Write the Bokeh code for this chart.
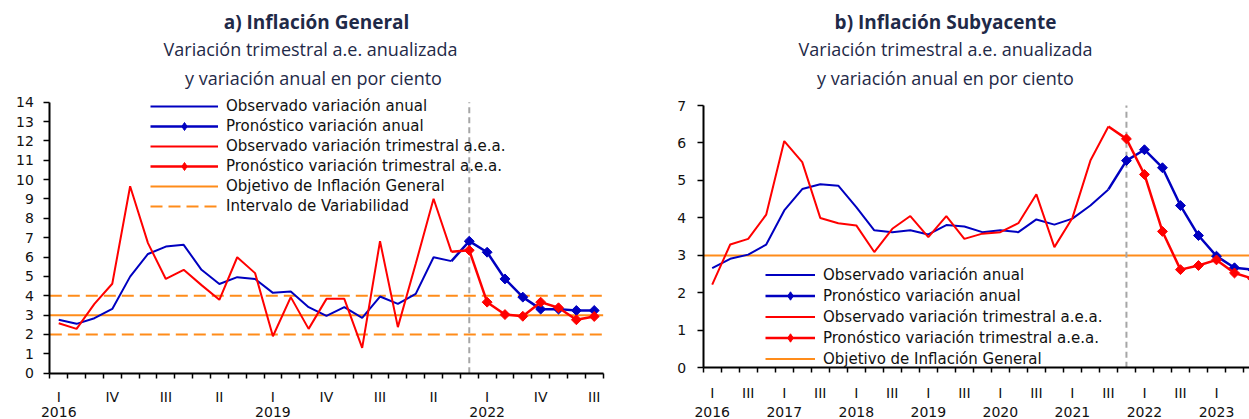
import numpy as np
from bokeh.plotting import figure
from bokeh.models import FixedTicker, Label, Legend, LegendItem, Range1d
from bokeh.layouts import row
from bokeh.embed import file_html
from bokeh.resources import INLINE

# ---------------- data ----------------
quarters = ["I", "II", "III", "IV"] * 7 + ["I", "II", "III"]   # 2016-I ... 2023-III
years = ["2016", "2017", "2018", "2019", "2020", "2021", "2022", "2023"]

# a) Inflación General
general_anual_obs = [2.76, 2.55, 2.84, 3.32, 4.99, 6.16, 6.54, 6.63, 5.34, 4.61, 4.96, 4.87,
                     4.15, 4.22, 3.41, 2.96, 3.41, 2.86, 3.96, 3.58, 4.10, 5.99, 5.79]
general_anual_pron = [6.82, 6.25, 4.87, 3.93, 3.31, 3.31, 3.24, 3.24]
general_trim_obs = [2.58, 2.29, 3.58, 4.62, 9.66, 6.72, 4.87, 5.34, 4.55, 3.79, 5.99, 5.17,
                    1.91, 3.93, 2.29, 3.84, 3.84, 1.31, 6.82, 2.38, 5.65, 9.01, 6.27]
general_trim_pron = [6.35, 3.67, 3.03, 2.94, 3.67, 3.38, 2.76, 2.93]

# b) Inflación Subyacente
sub_anual_obs = [2.66, 2.91, 3.02, 3.29, 4.20, 4.77, 4.90, 4.86, 4.29, 3.67, 3.62, 3.67,
                 3.56, 3.81, 3.77, 3.62, 3.67, 3.62, 3.96, 3.82, 3.98, 4.33, 4.76]
sub_anual_pron = [5.53, 5.82, 5.34, 4.33, 3.53, 2.98, 2.67, 2.62]
sub_trim_obs = [2.22, 3.29, 3.44, 4.09, 6.05, 5.49, 4.00, 3.86, 3.80, 3.09, 3.71, 4.05,
                3.49, 4.05, 3.44, 3.58, 3.62, 3.86, 4.63, 3.22, 4.00, 5.53, 6.44]
sub_trim_pron = [6.11, 5.16, 3.64, 2.62, 2.73, 2.88, 2.53, 2.38]

objetivo = 3.0
intervalo = [2.0, 4.0]

labels_legend = ["Observado variación anual", "Pronóstico variación anual",
                 "Observado variación trimestral a.e.a.", "Pronóstico variación trimestral a.e.a.",
                 "Objetivo de Inflación General", "Intervalo de Variabilidad"]

# ---------------- style ----------------
BLUE = "#0000C0"
RED = "#FF0000"
ORANGE = "#FF8C1A"
GRAY = "#A6A6A6"
NAVY = "#1F2A48"
TXT = "#111111"
FONT = "DejaVu Sans"
TFONT = "Open Sans"
H = 419


def panel(x0, width, ax_left, cat_px, ax_bottom, unit_px, y_max,
          a_obs, a_pron, t_obs, t_pron, with_interval, q_step, year_step,
          titles, title_pos, leg_xy, glyph_w, row_h, q_standoff, y_standoff, year_py):
    """x0: page x of the figure; ax_left / ax_bottom: page px of the axes; the
    plotting frame covers the whole figure so that every text stays visible."""
    n = len(quarters)
    x_start = -0.5 - (ax_left - x0) / cat_px
    x_end = -0.5 + (x0 + width - ax_left) / cat_px
    y_start = -(H - ax_bottom) / unit_px
    y_end = ax_bottom / unit_px

    p = figure(width=width, height=H, output_backend="svg", toolbar_location=None,
               x_range=Range1d(x_start, x_end), y_range=Range1d(y_start, y_end),
               min_border=0, min_border_left=0, min_border_right=0,
               min_border_top=0, min_border_bottom=0)
    p.title.visible = False
    p.outline_line_color = None
    p.grid.visible = False
    p.background_fill_color = "white"
    p.border_fill_color = "white"

    # ---- x axis (category style: tick marks at boundaries, labels at centres)
    xa = p.xaxis[0]
    xa.fixed_location = 0
    xa.bounds = (-0.5, n - 0.5)
    q_idx = list(range(0, n, q_step))
    xa.ticker = FixedTicker(ticks=q_idx, minor_ticks=[i - 0.5 for i in range(n + 1)])
    xa.major_label_overrides = {i: quarters[i] for i in q_idx}
    xa.major_tick_out = 0
    xa.major_tick_in = 0
    xa.minor_tick_out = 5
    xa.minor_tick_in = 0
    xa.axis_line_width = 2
    xa.minor_tick_line_width = 1.5
    xa.axis_line_color = "black"
    xa.minor_tick_line_color = "black"
    xa.major_label_text_font = FONT
    xa.major_label_text_font_size = "14px"
    xa.major_label_text_color = TXT
    xa.major_label_standoff = q_standoff

    # ---- y axis
    ya = p.yaxis[0]
    ya.fixed_location = -0.5
    ya.bounds = (0, y_max)
    ya.ticker = FixedTicker(ticks=list(range(0, y_max + 1)))
    ya.major_tick_out = 6
    ya.major_tick_in = 0
    ya.minor_tick_out = 0
    ya.minor_tick_in = 0
    ya.axis_line_width = 2
    ya.major_tick_line_width = 1.5
    ya.axis_line_color = "black"
    ya.major_tick_line_color = "black"
    ya.major_label_text_font = FONT
    ya.major_label_text_font_size = "14px"
    ya.major_label_text_color = TXT
    ya.major_label_standoff = y_standoff

    # ---- year labels under the first quarter of selected years
    for i in range(0, n, year_step):
        if i <= x_end:
            p.add_layout(Label(x=i, y=H - year_py, x_units="data", y_units="screen",
                               text=years[i // 4], text_align="center", text_baseline="middle",
                               text_font=FONT, text_font_size="14px", text_color=TXT))

    # ---- titles
    for k, (txt, (px, py)) in enumerate(zip(titles, title_pos)):
        p.add_layout(Label(x=px - x0, y=H - py, x_units="screen", y_units="screen", text=txt,
                           text_align="center", text_baseline="middle", text_font=TFONT,
                           text_font_size="19px" if k == 0 else "18px",
                           text_font_style="bold" if k == 0 else "normal",
                           text_color=NAVY))

    # ---- reference lines
    xs_full = [-0.5, n - 0.5]
    r_obj = p.line(xs_full, [objetivo, objetivo], line_color=ORANGE, line_width=2)
    r_int = []
    if with_interval:
        for v in intervalo:
            r_int.append(p.line(xs_full, [v, v], line_color=ORANGE, line_width=2,
                                line_dash="12 6"))
    k0 = len(a_obs)
    p.line([k0, k0], [0, y_max], line_color=GRAY, line_dash="6 4", line_width=2)

    # ---- series
    x_obs = list(range(len(a_obs)))
    x_pron = list(range(len(a_obs), len(a_obs) + len(a_pron)))

    r1 = p.line(x_obs, a_obs, line_color=BLUE, line_width=2)
    r2l = p.line([x_obs[-1]] + x_pron, [a_obs[-1]] + a_pron, line_color=BLUE, line_width=2.5)
    p.scatter(x_pron, a_pron, marker="square", size=7, angle=np.pi / 4,
              fill_color=BLUE, line_color=BLUE, line_width=1)
    r3 = p.line(x_obs, t_obs, line_color=RED, line_width=2)
    r4l = p.line([x_obs[-1]] + x_pron, [t_obs[-1]] + t_pron, line_color=RED, line_width=2.5)
    p.scatter(x_pron, t_pron, marker="square", size=7, angle=np.pi / 4,
              fill_color=RED, line_color=RED, line_width=1)
    # diamond symbols shown only in the legend (no visible point in the plot)
    r2k = p.scatter([np.nan], [np.nan], marker="diamond", size=11,
                    fill_color=BLUE, line_color=BLUE)
    r4k = p.scatter([np.nan], [np.nan], marker="diamond", size=11,
                    fill_color=RED, line_color=RED)

    items = [LegendItem(label=labels_legend[0], renderers=[r1]),
             LegendItem(label=labels_legend[1], renderers=[r2l, r2k]),
             LegendItem(label=labels_legend[2], renderers=[r3]),
             LegendItem(label=labels_legend[3], renderers=[r4l, r4k]),
             LegendItem(label=labels_legend[4], renderers=[r_obj])]
    if with_interval:
        items.append(LegendItem(label=labels_legend[5], renderers=[r_int[0]]))
    n_items = len(items)
    lx, ly_top = leg_xy
    leg = Legend(items=items, location=(lx - x0, H - (ly_top + n_items * row_h)),
                 margin=0, padding=0, spacing=0,
                 glyph_width=glyph_w, glyph_height=row_h, label_height=row_h,
                 label_standoff=8, label_text_font=FONT, label_text_font_size="15px",
                 label_text_color=TXT, background_fill_alpha=0, border_line_alpha=0)
    p.add_layout(leg)
    return p


p1 = panel(x0=0, width=620, ax_left=49.3, cat_px=17.85, ax_bottom=372.7, unit_px=19.357,
           y_max=14, a_obs=general_anual_obs, a_pron=general_anual_pron,
           t_obs=general_trim_obs, t_pron=general_trim_pron,
           with_interval=True, q_step=3, year_step=12,
           titles=["a) Inflación General", "Variación trimestral a.e. anualizada",
                   "y variación anual en por ciento"],
           title_pos=[(316, 21), (310, 48), (313, 77)],
           leg_xy=(150, 96), glyph_w=68, row_h=20, q_standoff=11, y_standoff=10, year_py=411)

p2 = panel(x0=620, width=629, ax_left=702.7, cat_px=18.01, ax_bottom=367.3, unit_px=37.47,
           y_max=7, a_obs=sub_anual_obs, a_pron=sub_anual_pron,
           t_obs=sub_trim_obs, t_pron=sub_trim_pron,
           with_interval=False, q_step=2, year_step=4,
           titles=["b) Inflación Subyacente", "Variación trimestral a.e. anualizada",
                   "y variación anual en por ciento"],
           title_pos=[(945, 21), (945, 48), (945, 77)],
           leg_xy=(765, 264), glyph_w=50, row_h=21, q_standoff=12, y_standoff=11, year_py=411)

layout = row(p1, p2)
with open("out.html", "w") as f:
    f.write(file_html(layout, INLINE))
